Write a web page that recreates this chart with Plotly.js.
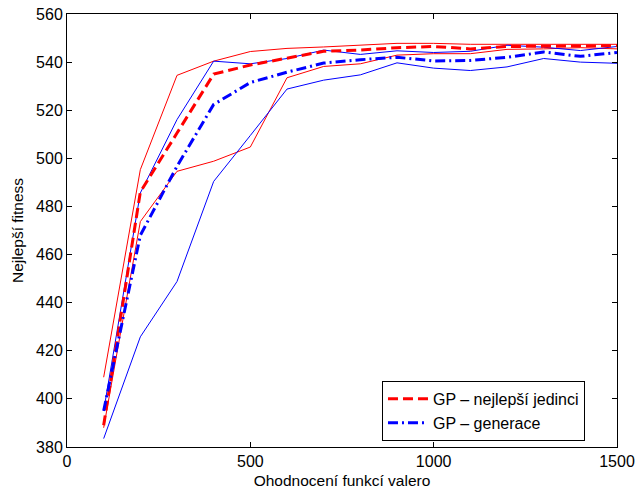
<!DOCTYPE html>
<html>
<head>
<meta charset="utf-8">
<script src="https://cdn.plot.ly/plotly-3.0.1.min.js"></script>
<style>html,body{margin:0;padding:0;background:#fff;}#chart{width:639px;height:491px;}</style>
</head>
<body>
<div id="chart"></div>
<script>
const evaluations = [100,200,300,400,500,600,700,800,900,1000,1100,1200,1300,1400,1500];
const bestMean  = [389,486,510.5,535,538.8,541.5,544.5,545,546,546.5,545.5,546.5,546.7,546.7,546.8];
const bestUpper = [409,495.3,534.5,540.4,544.4,545.7,546.3,547,547.8,547.8,547.4,547.4,547.4,547.4,547.4];
const bestLower = [388,473.7,494.6,498.8,504.7,533.5,538.2,539.3,542.9,543.5,543.5,545.3,545.5,546,545.5];
const genMean   = [395,468,496.7,522.4,531.5,535.8,539.6,541,542,540.5,540.7,542,544.2,542.4,544];
const genUpper  = [395,485.6,516.1,540.4,539.3,541.5,545,543.2,544.7,544,544.5,547,546.2,544.8,546.5];
const genLower  = [383.5,425.8,448.8,490.4,509.5,528.8,532.5,534.7,539.7,537.5,536.5,538,541.5,540,539.5];
const seriesNames = ['GP – nejlepší jedinci','GP – generace'];
const xTicks = [0,500,1000,1500];
const yTicks = [380,400,420,440,460,480,500,520,540,560];

const RED = '#ff0000', BLUE = '#0000ff';
const thin = (y, c) => ({x: evaluations, y: y, mode: 'lines', line: {color: c, width: 1}, showlegend: false, hoverinfo: 'skip'});
const traces = [
  thin(bestUpper, RED), thin(bestLower, RED),
  thin(genUpper, BLUE), thin(genLower, BLUE),
  {x: evaluations, y: bestMean, mode: 'lines', name: seriesNames[0], line: {color: RED, width: 3, dash: '10px,5px'}},
  {x: evaluations, y: genMean, mode: 'lines', name: seriesNames[1], line: {color: BLUE, width: 3, dash: '10px,4px,2px,4px'}}
];
const fontFam = 'Liberation Sans, Arial, sans-serif';
const axisCommon = {
  showgrid: false, zeroline: false, showline: true, linecolor: '#000', linewidth: 1,
  mirror: 'ticks', ticks: 'inside', ticklen: 5, tickcolor: '#000',
  tickfont: {family: fontFam, size: 16, color: '#000'}
};
const layout = {
  width: 639, height: 491,
  margin: {l: 67, r: 22, t: 14, b: 44},
  paper_bgcolor: '#fff', plot_bgcolor: '#fff',
  font: {family: fontFam, color: '#000'},
  xaxis: Object.assign({}, axisCommon, {
    range: [0, 1500], tickvals: xTicks, ticktext: xTicks.map(String),
    title: {text: 'Ohodnocení funkcí valero', font: {family: fontFam, size: 15.5, color: '#000'}, standoff: 5}
  }),
  yaxis: Object.assign({}, axisCommon, {
    range: [380, 560], tickvals: yTicks, ticktext: yTicks.map(String),
    title: {text: 'Nejlepší fitness', font: {family: fontFam, size: 15.5, color: '#000'}, standoff: 8}
  }),
  legend: {
    x: 0.5727, y: 0.014, xanchor: 'left', yanchor: 'bottom',
    bgcolor: '#fff', bordercolor: '#000', borderwidth: 1,
    font: {family: fontFam, size: 16, color: '#000'},
    tracegroupgap: 0, itemwidth: 40
  },
  showlegend: true
};
Plotly.newPlot('chart', traces, layout, {displayModeBar: false, staticPlot: true});
</script>
</body>
</html>
